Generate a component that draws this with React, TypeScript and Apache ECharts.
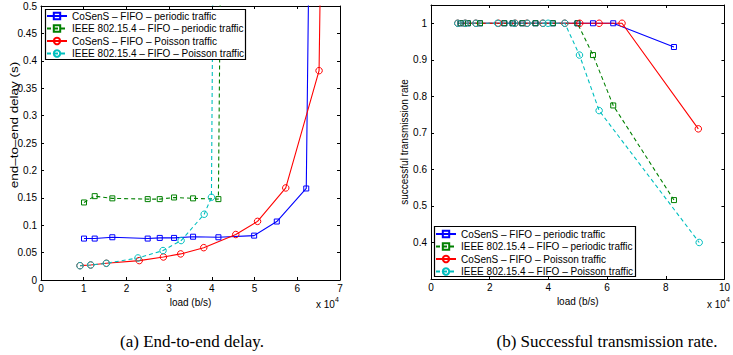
import React, { useEffect, useRef } from "react";
import * as echarts from "echarts";

// ---- data (loads in units of 10^4 b/s) ----
const seriesNames = [
  "CoSenS – FIFO – periodic traffic",
  "IEEE 802.15.4 – FIFO – periodic traffic",
  "CoSenS – FIFO – Poisson traffic",
  "IEEE 802.15.4 – FIFO – Poisson traffic",
];
const seriesColors = ["#0000ff", "#008000", "#ff0000", "#00bfbf"];
const seriesDashed = [false, true, false, true];
const seriesSymbols = ["rect", "rect", "circle", "circle"];

const periodicLoad = [1.007, 1.257, 1.67, 2.498, 2.78, 3.115, 3.56, 4.153, 4.99, 5.52, 6.21, 8.28];
const cosensPoissonLoad = [0.913, 1.163, 1.53, 2.3, 2.865, 3.27, 3.81, 4.56, 5.07, 5.73, 6.51, 9.11];
const ieeePoissonLoad = [0.913, 1.163, 1.53, 2.27, 2.857, 3.28, 3.82, 3.99, 4.56, 5.06, 5.73, 9.14];

// end-to-end delay (s)
const cosensPeriodicDelay = [0.0756, 0.0756, 0.078, 0.0756, 0.0768, 0.0768, 0.079, 0.078, 0.081, 0.1067, 0.167, 14];
const ieeePeriodicDelay = [0.1415, 0.153, 0.149, 0.1476, 0.1476, 0.1506, 0.149, 0.1476, 7.5, null, null, null];
const cosensPoissonDelay = [0.0262, 0.0274, 0.0305, 0.0354, 0.042, 0.0476, 0.059, 0.083, 0.107, 0.168, 0.382, 15];
const ieeePoissonDelay = [0.026, 0.0274, 0.0305, 0.0402, 0.0537, 0.072, 0.12, 0.151, 6.6, null, null, null];

// successful transmission rate
const cosensPeriodicRate = [1, 1, 1, 1, 1, 1, 1, 1, 1, 1, 1, 0.935];
const ieeePeriodicRate = [1, 1, 1, 1, 1, 1, 1, 1, 1, 0.913, 0.775, 0.516];
const cosensPoissonRate = [1, 1, 1, 1, 1, 1, 1, 1, 1, 1, 1, 0.711];
const ieeePoissonRate = [1, 1, 1, 1, 1, 1, 1, 1, 1, 0.913, 0.761, 0.4];

const delayXTicks = { min: 0, max: 7, interval: 1 };
const delayYTicks = { min: 0, max: 0.5, interval: 0.05 };
const rateXTicks = { min: 0, max: 10, interval: 2 };
const rateYTicks = { min: 0.3, max: 1.05, interval: 0.1 };

const delayYLabel = "end–to–end delay (s)";
const rateYLabel = "successful transmission rate";
const xLabel = "load (b/s)";
const captions = ["(a) End-to-end delay.", "(b) Successful transmission rate."];

const SANS = "Arial";
const SERIF = "'Liberation Serif', 'Times New Roman', serif";

function pairs(xs: number[], ys: (number | null)[]) {
  return xs.map((x, i) => [x, ys[i]]);
}

const axisCommon = {
  type: "value",
  splitLine: { show: false },
  axisLine: { show: true, onZero: false, lineStyle: { color: "#000", width: 1 } },
  axisTick: { show: true, inside: true, length: 3, lineStyle: { color: "#000", width: 1 } },
};

function xAxisPair(gridIndex: number, t: { min: number; max: number; interval: number }) {
  const common = { ...axisCommon, gridIndex, min: t.min, max: t.max, interval: t.interval };
  return [
    {
      ...common,
      position: "bottom",
      axisLabel: { margin: 3, fontSize: 10, color: "#000", fontFamily: SANS },
      name: xLabel,
      nameLocation: "middle",
      nameGap: 13,
      nameTextStyle: { fontSize: 10, color: "#000", fontFamily: SANS },
    },
    { ...common, position: "top", axisLabel: { show: false } },
  ];
}

function yAxisPair(
  gridIndex: number,
  t: { min: number; max: number; interval: number },
  name: string,
  nameGap: number,
  formatter: (v: number) => string
) {
  const common = { ...axisCommon, gridIndex, min: t.min, max: t.max, interval: t.interval };
  return [
    {
      ...common,
      position: "left",
      axisLabel: { margin: 4, fontSize: 10, color: "#000", fontFamily: SANS, formatter },
      name,
      nameLocation: "middle",
      nameRotate: 90,
      nameGap,
      nameTextStyle: { fontSize: 10, color: "#000", fontFamily: SANS },
    },
    { ...common, position: "right", axisLabel: { show: false } },
  ];
}

function makeSeries(i: number, xAxisIndex: number, yAxisIndex: number, data: any[]) {
  const color = seriesColors[i];
  return {
    type: "line",
    name: seriesNames[i],
    xAxisIndex,
    yAxisIndex,
    data,
    z: 2,
    symbol: seriesSymbols[i],
    symbolSize: seriesSymbols[i] === "rect" ? 5 : 6.5,
    showSymbol: true,
    clip: true,
    lineStyle: { color, width: 1.1, type: seriesDashed[i] ? [4, 3] : "solid" },
    itemStyle: { color: "rgba(255,255,255,0)", borderColor: color, borderWidth: 1 },
    emphasis: { disabled: true },
  };
}

// white, black-edged frame behind a legend, drawn by a custom series (above the lines, below the legend)
function frameSeries(axisIndex: number, x: number, y: number, w: number, h: number) {
  return {
    type: "custom",
    name: "frame" + axisIndex,
    xAxisIndex: axisIndex,
    yAxisIndex: axisIndex,
    z: 3,
    silent: true,
    clip: false,
    data: [[0, 0]],
    renderItem: () => ({
      type: "rect",
      shape: { x, y, width: w, height: h },
      style: { fill: "#ffffff", stroke: "#000000", lineWidth: 1.2 },
    }),
  };
}

function legendAt(left: number, top: number) {
  return {
    orient: "vertical",
    left,
    top,
    z: 8,
    itemWidth: 20,
    itemHeight: 8,
    itemGap: 0.5,
    padding: [1, 2, 1, 1],
    selectedMode: false,
    textStyle: { fontSize: 10, color: "#000", fontFamily: SANS, lineHeight: 12 },
    data: seriesNames,
  };
}

function times10(x: number, y: number) {
  return {
    type: "group",
    children: [
      {
        type: "text",
        x,
        y,
        style: { text: "x 10", fontSize: 10, fontFamily: SANS, fill: "#000", align: "left", verticalAlign: "middle" },
      },
      {
        type: "text",
        x: x + 19,
        y: y - 5,
        style: { text: "4", fontSize: 7, fontFamily: SANS, fill: "#000", align: "left", verticalAlign: "middle" },
      },
    ],
  };
}

export default function App() {
  const ref = useRef<HTMLDivElement>(null);
  useEffect(() => {
    if (!ref.current) return;
    const chart = echarts.init(ref.current, undefined, { renderer: "svg" });
    const delayData = [
      pairs(periodicLoad, cosensPeriodicDelay),
      pairs(periodicLoad, ieeePeriodicDelay),
      pairs(cosensPoissonLoad, cosensPoissonDelay),
      pairs(ieeePoissonLoad, ieeePoissonDelay),
    ];
    const rateData = [
      pairs(periodicLoad, cosensPeriodicRate),
      pairs(periodicLoad, ieeePeriodicRate),
      pairs(cosensPoissonLoad, cosensPoissonRate),
      pairs(ieeePoissonLoad, ieeePoissonRate),
    ];
    const series: any[] = [];
    for (let i = 0; i < 4; i++) series.push(makeSeries(i, 0, 0, delayData[i]));
    for (let i = 0; i < 4; i++) series.push(makeSeries(i, 2, 2, rateData[i]));
    series.push(frameSeries(0, 45.5, 9.5, 200, 50));
    series.push(frameSeries(2, 434.5, 226.5, 201, 50));

    chart.setOption({
      animation: false,
      backgroundColor: "#fff",
      grid: [
        { left: 41, top: 6, width: 299, height: 274 },
        { left: 431, top: 5, width: 299, height: 274 },
      ],
      xAxis: [...xAxisPair(0, delayXTicks), ...xAxisPair(1, rateXTicks)],
      yAxis: [
        ...yAxisPair(0, delayYTicks, "", 20, (v: number) => String(Math.round(v * 100) / 100)),
        ...yAxisPair(1, rateYTicks, rateYLabel, 16, (v: number) =>
          v < 0.35 || v > 1.01 ? "" : String(Math.round(v * 10) / 10)
        ),
      ],
      legend: [legendAt(45, 9), legendAt(434, 227)],
      series,
      graphic: {
        elements: [
          {
            type: "text",
            x: 15,
            y: 125,
            rotation: Math.PI / 2,
            scaleX: 1.35,
            style: { text: delayYLabel, fontSize: 10, fontFamily: SANS, fill: "#000", align: "center", verticalAlign: "middle" },
          },
          times10(316, 304),
          times10(707, 304),
          {
            type: "text",
            x: 192,
            y: 341,
            style: { text: captions[0], fontSize: 17, fontFamily: SERIF, fill: "#000", align: "center", verticalAlign: "middle" },
          },
          {
            type: "text",
            x: 607,
            y: 341,
            style: { text: captions[1], fontSize: 17, fontFamily: SERIF, fill: "#000", align: "center", verticalAlign: "middle" },
          },
        ],
      },
    });
    return () => chart.dispose();
  }, []);
  return <div ref={ref} style={{ position: "fixed", left: 0, top: 0, width: 733, height: 355 }} />;
}
